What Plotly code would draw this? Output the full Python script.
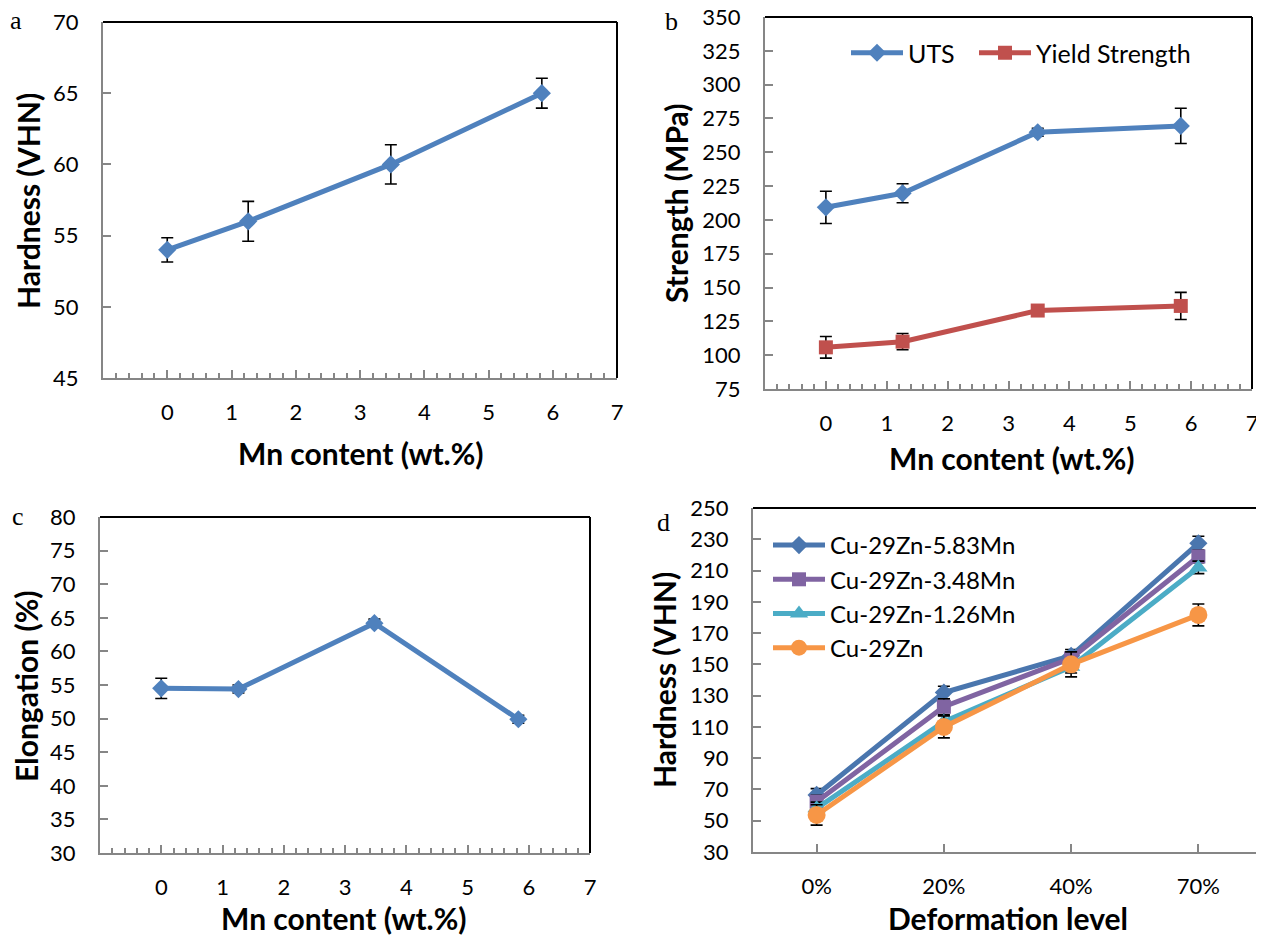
import plotly.graph_objects as go

# the page body adds an 8 px margin; figure is sized so that it fills the window
OFF = 8
W, H = 1264 - OFF, 936 - OFF

# ---------------- data ----------------
mn_content = [0, 1.26, 3.48, 5.83]
mn_ticks = [0, 1, 2, 3, 4, 5, 6, 7]

hardness = [54.0, 56.0, 60.0, 65.0]
hardness_err = [0.85, 1.4, 1.38, 1.05]

uts = [209.3, 219.7, 264.8, 269.5]
uts_err = [11.9, 7.0, 3.0, 13.0]
yield_strength = [105.8, 110.0, 133.0, 136.4]
yield_err = [8.0, 6.0, 2.5, 10.0]

elongation = [54.5, 54.4, 64.2, 49.9]
elongation_err = [1.5, 0.6, 0.6, 0.6]

deformation = ["0%", "20%", "40%", "70%"]
hv_583 = [66.5, 132.0, 155.5, 227.4]
hv_583_err = [4.0, 4.0, 4.0, 4.5]
hv_348 = [62.2, 122.9, 153.9, 219.0]
hv_348_err = [4.0, 5.0, 4.0, 4.0]
hv_126 = [57.9, 113.3, 148.5, 212.0]
hv_126_err = [4.0, 4.0, 4.0, 4.0]
hv_0 = [53.7, 110.0, 150.0, 181.6]
hv_0_err = [6.5, 7.0, 8.0, 7.0]

# ---------------- style ----------------
BLUE = "#4F81BD"
RED = "#C0504D"
PURPLE = "#8064A2"
TEAL = "#4BACC6"
ORANGE = "#F79646"
BLUE_D = "#4A76AE"
AXIS = "#868686"
FONT = "Lato"

# plot-area boxes in window pixels: left, right, top, bottom
boxes = {
    "a": (103, 617, 22, 378),
    "b": (765, 1252, 17, 389),
    "c": (100, 590, 517, 853),
    "d": (753, 1262, 508, 852),
}


def px(x):
    return (x - OFF) / W


def py(y):
    return 1 - (y - OFF) / H


def dom(box):
    l, r, t, b = box
    return [px(l), min(px(r), 1.0)], [py(b), py(t)]


def err(arr):
    return dict(type="data", array=arr, color="black", thickness=1.6, width=6)


fig = go.Figure()

# panel a
fig.add_trace(go.Scatter(
    x=mn_content, y=hardness, mode="lines+markers", showlegend=False,
    line=dict(color=BLUE, width=5),
    marker=dict(symbol="diamond", size=14, color=BLUE),
    error_y=err(hardness_err), xaxis="x", yaxis="y"))

# panel b
fig.add_trace(go.Scatter(
    x=mn_content, y=uts, mode="lines+markers", name="UTS", legend="legend",
    line=dict(color=BLUE, width=5),
    marker=dict(symbol="diamond", size=14, color=BLUE),
    error_y=err(uts_err), xaxis="x2", yaxis="y2"))
fig.add_trace(go.Scatter(
    x=mn_content, y=yield_strength, mode="lines+markers", name="Yield Strength",
    legend="legend3",
    line=dict(color=RED, width=5),
    marker=dict(symbol="square", size=14, color=RED),
    error_y=err(yield_err), xaxis="x2", yaxis="y2"))

# panel c
fig.add_trace(go.Scatter(
    x=mn_content, y=elongation, mode="lines+markers", showlegend=False,
    line=dict(color=BLUE, width=5),
    marker=dict(symbol="diamond", size=14, color=BLUE),
    error_y=err(elongation_err), xaxis="x3", yaxis="y3"))

# panel d
series_d = [
    ("Cu-29Zn-5.83Mn", hv_583, hv_583_err, BLUE_D, "diamond", 14),
    ("Cu-29Zn-3.48Mn", hv_348, hv_348_err, PURPLE, "square", 14),
    ("Cu-29Zn-1.26Mn", hv_126, hv_126_err, TEAL, "triangle-up", 16),
    ("Cu-29Zn", hv_0, hv_0_err, ORANGE, "circle", 18),
]
for name, vals, e, col, sym, sz in series_d:
    fig.add_trace(go.Scatter(
        x=deformation, y=vals, mode="lines+markers", name=name, legend="legend2",
        line=dict(color=col, width=5),
        marker=dict(symbol=sym, size=sz, color=col),
        error_y=err(e), xaxis="x4", yaxis="y4"))

tickfont = dict(family=FONT, size=22, color="black")


def xaxis(box, anchor, rng, minor=True, **kw):
    d = dict(domain=dom(box)[0], anchor=anchor, range=rng, showline=True,
             linecolor=AXIS, linewidth=2, ticks="inside", ticklen=8, tickwidth=2,
             tickcolor=AXIS, showgrid=False, zeroline=False, tickfont=tickfont,
             ticklabelstandoff=14, ticklabeloverflow="allow", fixedrange=True,
             automargin=False)
    if minor:
        d["minor"] = dict(tick0=0, dtick=0.2, ticks="inside", ticklen=5,
                          tickwidth=1.5, tickcolor=AXIS, showgrid=False)
    d.update(kw)
    return d


def yaxis(box, anchor, rng, dtick):
    return dict(domain=dom(box)[1], anchor=anchor, range=rng, tick0=rng[0],
                dtick=dtick, showline=True, linecolor=AXIS, linewidth=2,
                ticks="inside", ticklen=8, tickwidth=2, tickcolor=AXIS,
                showgrid=False, zeroline=False, tickfont=tickfont,
                ticklabelstandoff=18, ticklabeloverflow="allow",
                fixedrange=True, automargin=False)


def legend_b(x_left):
    return dict(orientation="h", x=px(x_left), xanchor="left", y=py(53),
                yanchor="middle", font=dict(family=FONT, size=25, color="black"),
                bgcolor="rgba(0,0,0,0)", itemwidth=52)


mn_axis = dict(tickmode="array", tickvals=mn_ticks)
layout = dict(
    width=W, height=H, margin=dict(l=0, r=0, t=0, b=0, autoexpand=False),
    paper_bgcolor="white", plot_bgcolor="white",
    font=dict(family=FONT, color="black"),
    xaxis=xaxis(boxes["a"], "y", [-1, 7], **mn_axis),
    yaxis=yaxis(boxes["a"], "x", [45, 70], 5),
    xaxis2=xaxis(boxes["b"], "y2", [-1, 7], **mn_axis),
    yaxis2=yaxis(boxes["b"], "x2", [75, 350], 25),
    xaxis3=xaxis(boxes["c"], "y3", [-1, 7], **mn_axis),
    yaxis3=yaxis(boxes["c"], "x3", [30, 80], 5),
    xaxis4=xaxis(boxes["d"], "y4", [-0.5, 3.5], minor=False, type="category",
                 categoryorder="array", categoryarray=deformation),
    yaxis4=yaxis(boxes["d"], "x4", [30, 250], 20),
    legend=legend_b(846),
    legend3=legend_b(974),
    legend2=dict(orientation="v", x=px(768), xanchor="left", y=py(523),
                 yanchor="top", font=dict(family=FONT, size=24, color="black"),
                 bgcolor="rgba(0,0,0,0)", itemwidth=52, tracegroupgap=0),
)
fig.update_layout(**layout)

# black top/right frame of each plot area
shapes = []
for xr, yr in [("x", "y"), ("x2", "y2"), ("x3", "y3"), ("x4", "y4")]:
    shapes.append(dict(type="line", xref=f"{xr} domain", yref=f"{yr} domain",
                       x0=0, x1=1, y0=1, y1=1, line=dict(color="black", width=2),
                       layer="below"))
    shapes.append(dict(type="line", xref=f"{xr} domain", yref=f"{yr} domain",
                       x0=1, x1=1, y0=0, y1=1, line=dict(color="black", width=2),
                       layer="below"))
fig.update_layout(shapes=shapes)

# axis titles and panel letters
title_font = dict(family=FONT, size=30, color="black")
titles = [
    ("Mn content (wt.%)", 361, 453, 0),
    ("Hardness (VHN)", 28, 201, -90),
    ("Mn content (wt.%)", 1012, 458, 0),
    ("Strength (MPa)", 676, 203, -90),
    ("Mn content (wt.%)", 344, 918, 0),
    ("Elongation (%)", 26, 687, -90),
    ("Deformation level", 1008, 918, 0),
    ("Hardness (VHN)", 664, 680, -90),
]
ann = []
for text, tx, ty, ang in titles:
    ann.append(dict(text=f"<b>{text}</b>", x=px(tx), y=py(ty), xref="paper",
                    yref="paper", xanchor="center", yanchor="middle",
                    textangle=ang, showarrow=False, font=title_font))
letters = [("a", 16, 20), ("b", 671, 22), ("c", 18, 516), ("d", 663, 522)]
for t, tx, ty in letters:
    ann.append(dict(text=t, x=px(tx), y=py(ty), xref="paper", yref="paper",
                    xanchor="center", yanchor="middle", showarrow=False,
                    font=dict(family="Liberation Serif", size=26, color="black")))
fig.update_layout(annotations=ann)

fig.write_html("out.html")
